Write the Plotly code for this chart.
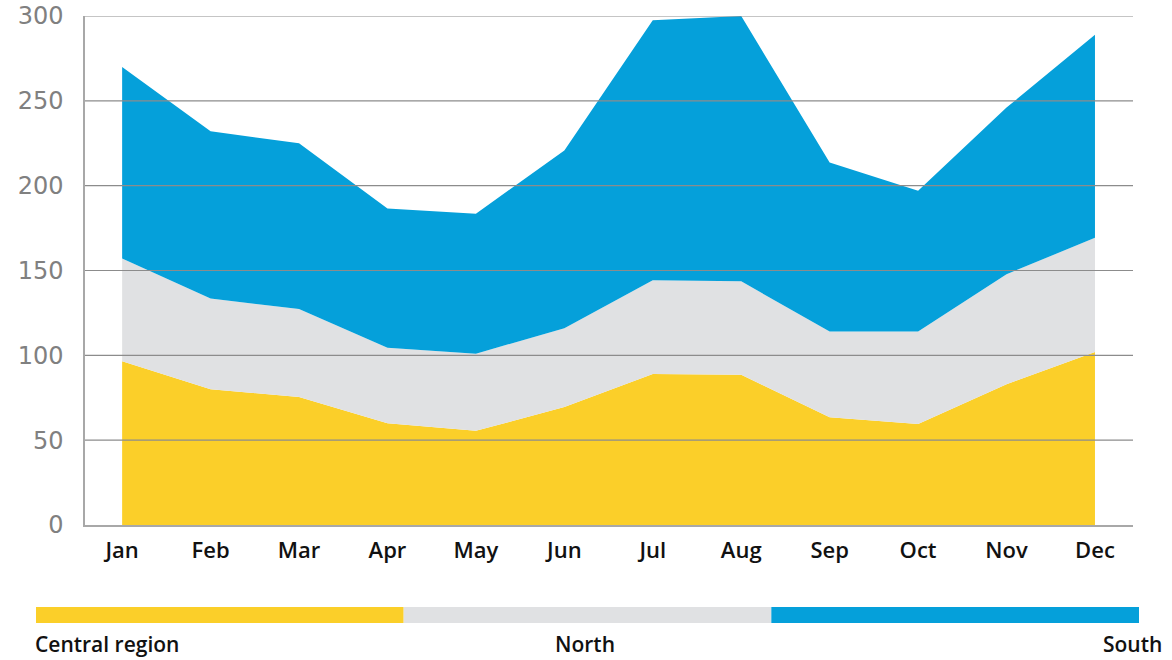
import plotly.graph_objects as go

months = ["Jan", "Feb", "Mar", "Apr", "May", "Jun", "Jul", "Aug", "Sep", "Oct", "Nov", "Dec"]
central = [96.5, 80, 75.5, 60, 55.5, 69.5, 89, 88.5, 63.5, 59.5, 83, 102]
north_cum = [157, 133.5, 127.3, 104.5, 101, 116, 144.3, 143.6, 114, 114, 147.8, 169.3]
total = [270, 232, 225, 186.5, 183.5, 220.7, 297.5, 300, 213.6, 197, 246, 289]
north = [n - c for n, c in zip(north_cum, central)]
south = [t - n for t, n in zip(total, north_cum)]

series_names = ["Central region", "North", "South"]
series_colors = ["#FBCF29", "#E0E1E3", "#05A0DA"]
series_values = [central, north, south]
y_ticks = [0, 50, 100, 150, 200, 250, 300]

W, H = 1172, 660
L, R, T, B = 85, 39, 16, 135
PW, PH = W - L - R, H - T - B


def px_x(px):
    return (px - L) / PW


def px_y(py):
    return (H - B - py) / PH


fig = go.Figure()
for name, vals, col in zip(series_names, series_values, series_colors):
    fig.add_trace(go.Scatter(
        x=months, y=vals, name=name, mode="lines", stackgroup="one",
        line=dict(width=0, color=col), fillcolor=col, showlegend=False,
        hoverinfo="x+y+name",
    ))

shapes = []
for v in y_ticks[1:]:
    shapes.append(dict(type="line", xref="paper", x0=0, x1=1, yref="y", y0=v, y1=v,
                       line=dict(color="#8c8c8c", width=1.2), layer="above"))

# colour key at the bottom
bar_left, bar_right = 36, 1139
seg = (bar_right - bar_left) / len(series_names)
annotations = []
for i, (name, col) in enumerate(zip(series_names, series_colors)):
    shapes.append(dict(type="rect", xref="paper", yref="paper",
                       x0=px_x(bar_left + i * seg), x1=px_x(bar_left + (i + 1) * seg),
                       y0=px_y(623), y1=px_y(607), fillcolor=col, line=dict(width=0),
                       layer="above"))
label_pos = [(33, "left"), (585, "center"), (1164, "right")]
for name, (lx, anc) in zip(series_names, label_pos):
    annotations.append(dict(text=name, xref="paper", yref="paper", x=px_x(lx), y=px_y(644),
                            xanchor=anc, yanchor="middle", showarrow=False,
                            font=dict(family="Open Sans", size=21, color="#111111", weight=600)))

fig.update_layout(
    width=W, height=H,
    margin=dict(l=L, r=R, t=T, b=B, autoexpand=False),
    paper_bgcolor="white", plot_bgcolor="white",
    shapes=shapes, annotations=annotations,
    xaxis=dict(
        type="category", range=[-0.42, 11.43], showgrid=False, zeroline=False,
        showline=True, linecolor="#a8a8a8", linewidth=1.5, ticks="",
        tickfont=dict(family="Open Sans", size=22, color="#111111", weight=600),
        ticklabelstandoff=5, automargin=False,
    ),
    yaxis=dict(
        range=[0, 300], tickvals=y_ticks, showgrid=False, zeroline=False,
        showline=True, linecolor="#a8a8a8", linewidth=1.5, ticks="",
        tickfont=dict(family="DejaVu Sans", size=24, color="#808080"),
        ticklabelstandoff=15, automargin=False,
    ),
)

fig.write_html("out.html", config={"displayModeBar": False},
               post_script="document.body.style.margin='0';document.body.style.overflow='hidden';")
